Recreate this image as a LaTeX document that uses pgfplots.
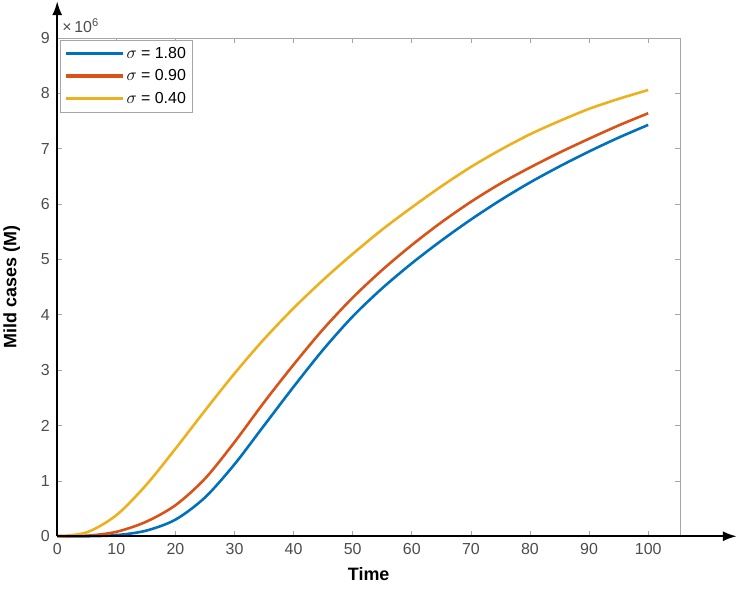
\documentclass[border=0pt]{standalone}
\usepackage{fontspec}
\setmainfont{Liberation Sans}
\usepackage{pgfplots}
\pgfplotsset{compat=1.18}
\usetikzlibrary{arrows.meta}
\definecolor{mblue}{rgb}{0,0.447,0.741}
\definecolor{mred}{rgb}{0.850,0.325,0.098}
\definecolor{myellow}{rgb}{0.929,0.694,0.125}

\begin{document}
\begin{tikzpicture}
\begin{axis}[
    scale only axis,
    width=625pt, height=500pt,
    xmin=0, xmax=105.4, ymin=0, ymax=9,
    xtick={0,10,...,100}, ytick={0,1,...,9},
    tick align=inside, tick pos=both,
    major tick length=5pt,
    axis line style={gray!70, line width=0.7pt},
    tick style={gray!70, line width=0.7pt},
    /pgf/number format/assume math mode=true,
    ticklabel style={font=\fontsize{16}{16}\selectfont, text=black!70},
    yticklabel style={xshift=-4pt},
    xticklabel style={yshift=-4pt},
    xlabel={Time}, ylabel={Mild cases (M)},
    label style={font=\fontsize{18}{18}\selectfont\bfseries},
    xlabel shift=6pt, ylabel shift=14pt,
    legend cell align=left,
    legend style={at={(0.005,0.996)}, anchor=north west, draw=gray!70,
        font=\fontsize{16}{16}\selectfont, row sep=6pt,
        inner xsep=4pt, inner ysep=5pt},
    legend image code/.code={\draw[#1, line width=3.2pt] (0pt,0pt) -- (57pt,0pt);},
    clip=false,
]
% sigma = 1.80
\addplot[mblue, line width=2.6pt, smooth] coordinates {
    (0,0)(5,0.0)(10,0.02)(15,0.1)(20,0.3)(25,0.7)(30,1.3)(35,2.0)(40,2.7)
    (45,3.37)(50,3.97)(55,4.48)(60,4.93)(65,5.34)(70,5.72)(75,6.07)(80,6.39)
    (85,6.68)(90,6.95)(95,7.2)(100,7.43)
};
\addlegendentry{$\sigma$ = 1.80}
% sigma = 0.90
\addplot[mred, line width=2.6pt, smooth] coordinates {
    (0,0)(5,0.01)(10,0.08)(15,0.26)(20,0.56)(25,1.04)(30,1.7)(35,2.42)(40,3.1)
    (45,3.74)(50,4.31)(55,4.81)(60,5.26)(65,5.67)(70,6.04)(75,6.37)(80,6.66)
    (85,6.93)(90,7.18)(95,7.42)(100,7.64)
};
\addlegendentry{$\sigma$ = 0.90}
% sigma = 0.40
\addplot[myellow, line width=2.6pt, smooth] coordinates {
    (0,0)(5,0.07)(10,0.38)(15,0.92)(20,1.58)(25,2.27)(30,2.94)(35,3.56)(40,4.12)
    (45,4.63)(50,5.1)(55,5.54)(60,5.94)(65,6.32)(70,6.67)(75,6.98)(80,7.26)
    (85,7.5)(90,7.72)(95,7.9)(100,8.06)
};
\addlegendentry{$\sigma$ = 0.40}
% axis arrows
\draw[black, line width=2.2pt, -{Latex[length=14pt,width=10pt]}]
    (rel axis cs:0,0) -- ([xshift=57pt]rel axis cs:1,0);
\draw[black, line width=2.2pt, -{Latex[length=14pt,width=10pt]}]
    (rel axis cs:0,0) -- ([yshift=37pt]rel axis cs:0,1);
\node[anchor=south west, text=black!70, font=\fontsize{16}{16}\selectfont,
    inner sep=1pt] at ([xshift=4pt,yshift=4pt]rel axis cs:0,1)
    {\texttimes\,10\textsuperscript{6}};
\path ([yshift=-61pt]rel axis cs:0,0);
\end{axis}
\end{tikzpicture}
\end{document}
